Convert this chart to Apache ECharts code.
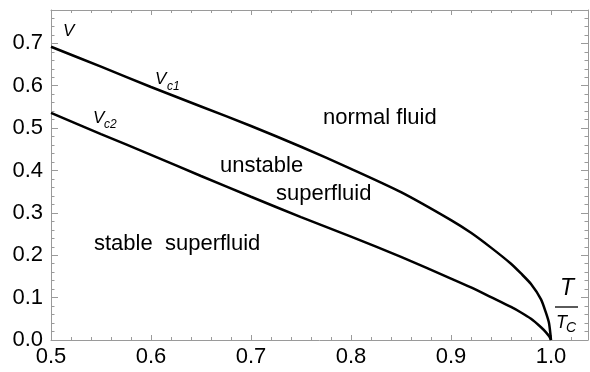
<!DOCTYPE html>
<html><head><meta charset="utf-8">
<script src="https://cdn.jsdelivr.net/npm/echarts@6/dist/echarts.min.js"></script>
<style>html,body{margin:0;padding:0;background:#fff}#c{width:590px;height:372px}</style>
</head><body><div id="c"></div>
<script>
// ---- data ----
const temps = [0.5, 0.55, 0.6, 0.65, 0.7, 0.75, 0.8, 0.85, 0.9, 0.92, 0.94, 0.96, 0.97, 0.98, 0.99, 0.995, 0.998, 1.0];
const vc1   = [0.692, 0.645, 0.597, 0.551, 0.505, 0.456, 0.404, 0.349, 0.283, 0.253, 0.218, 0.180, 0.157, 0.132, 0.096, 0.064, 0.040, 0.0];
const vc2   = [0.536, 0.486, 0.437, 0.387, 0.338, 0.290, 0.244, 0.196, 0.145, 0.124, 0.101, 0.078, 0.065, 0.050, 0.030, 0.018, 0.009, 0.0];
const xTickLabels = ['0.5', '0.6', '0.7', '0.8', '0.9', '1.0'];
const yTickLabels = ['0.0', '0.1', '0.2', '0.3', '0.4', '0.5', '0.6', '0.7'];

const X_MIN = 0.5, X_MAX = 1.037, Y_MIN = 0, Y_MAX = 0.7787;
const FRAME = '#9a9a9a';
const FONT = '"Liberation Sans", Arial, sans-serif';

function mkX(pos, interval, len, major, showLabel) {
  return {
    type: 'value', position: pos, min: X_MIN, max: X_MAX, interval: interval,
    axisLine: { show: major, onZero: false, lineStyle: { color: FRAME, width: 1 } },
    axisTick: { show: true, inside: true, length: len, lineStyle: { color: FRAME, width: 1 } },
    axisLabel: {
      show: showLabel, showMaxLabel: false, showMinLabel: true, margin: 6,
      color: '#000', fontFamily: FONT, fontSize: 22,
      formatter: function (v) { const s = v.toFixed(1); return xTickLabels.indexOf(s) >= 0 ? s : ''; }
    },
    splitLine: { show: false }
  };
}
function mkY(pos, interval, len, major, showLabel) {
  return {
    type: 'value', position: pos, min: Y_MIN, max: Y_MAX, interval: interval,
    axisLine: { show: major, onZero: false, lineStyle: { color: FRAME, width: 1 } },
    axisTick: { show: true, inside: true, length: len, lineStyle: { color: FRAME, width: 1 } },
    axisLabel: {
      show: showLabel, showMaxLabel: false, showMinLabel: true, margin: 8,
      color: '#000', fontFamily: FONT, fontSize: 22,
      formatter: function (v) { const s = v.toFixed(1); return yTickLabels.indexOf(s) >= 0 ? s : ''; }
    },
    splitLine: { show: false }
  };
}

const chart = echarts.init(document.getElementById('c'), null, { renderer: 'canvas' });

function txt(x, y, s, size, italic, align) {
  return {
    type: 'text', x: x, y: y, silent: true,
    style: { text: s, fill: '#000', font: (italic ? 'italic ' : '') + size + 'px ' + FONT,
             textAlign: align || 'left', textVerticalAlign: 'middle' }
  };
}

chart.setOption({
  animation: false,
  backgroundColor: '#fff',
  grid: { left: 51, top: 10, width: 537, height: 330, containLabel: false, outerBoundsMode: 'none' },
  xAxis: [
    mkX('bottom', 0.1, 5, true, true),
    mkX('bottom', 0.02, 3, false, false),
    mkX('top', 0.1, 5, true, false),
    mkX('top', 0.02, 3, false, false)
  ],
  yAxis: [
    mkY('left', 0.1, 7, true, true),
    mkY('left', 0.02, 3.5, false, false),
    mkY('right', 0.1, 7, true, false),
    mkY('right', 0.02, 3.5, false, false)
  ],
  series: [
    { type: 'line', name: 'Vc1', xAxisIndex: 0, yAxisIndex: 0, showSymbol: false, smooth: 0.25,
      lineStyle: { color: '#000', width: 2.5 }, data: temps.map((t, i) => [t, vc1[i]]) },
    { type: 'line', name: 'Vc2', xAxisIndex: 0, yAxisIndex: 0, showSymbol: false, smooth: 0.25,
      lineStyle: { color: '#000', width: 2.5 }, data: temps.map((t, i) => [t, vc2[i]]) }
  ],
  graphic: [
    txt(63, 31, 'V', 17, true),
    txt(155, 79, 'V', 17, true),
    txt(167, 87, 'c1', 12, true),
    txt(93, 118, 'V', 17, true),
    txt(104, 125, 'c2', 12, true),
    txt(323, 117.5, 'normal fluid', 22, false),
    txt(220, 165.5, 'unstable', 22, false),
    txt(276, 194, 'superfluid', 22, false),
    txt(94, 244, 'stable  superfluid', 22, false),
    txt(567, 289, 'T', 23, true, 'center'),
    { type: 'line', silent: true, shape: { x1: 555, y1: 307, x2: 578, y2: 307 }, style: { stroke: '#000', lineWidth: 1.3 } },
    txt(556, 323, 'T', 18, true),
    txt(566, 328, 'C', 14, true)
  ]
});
</script></body></html>
